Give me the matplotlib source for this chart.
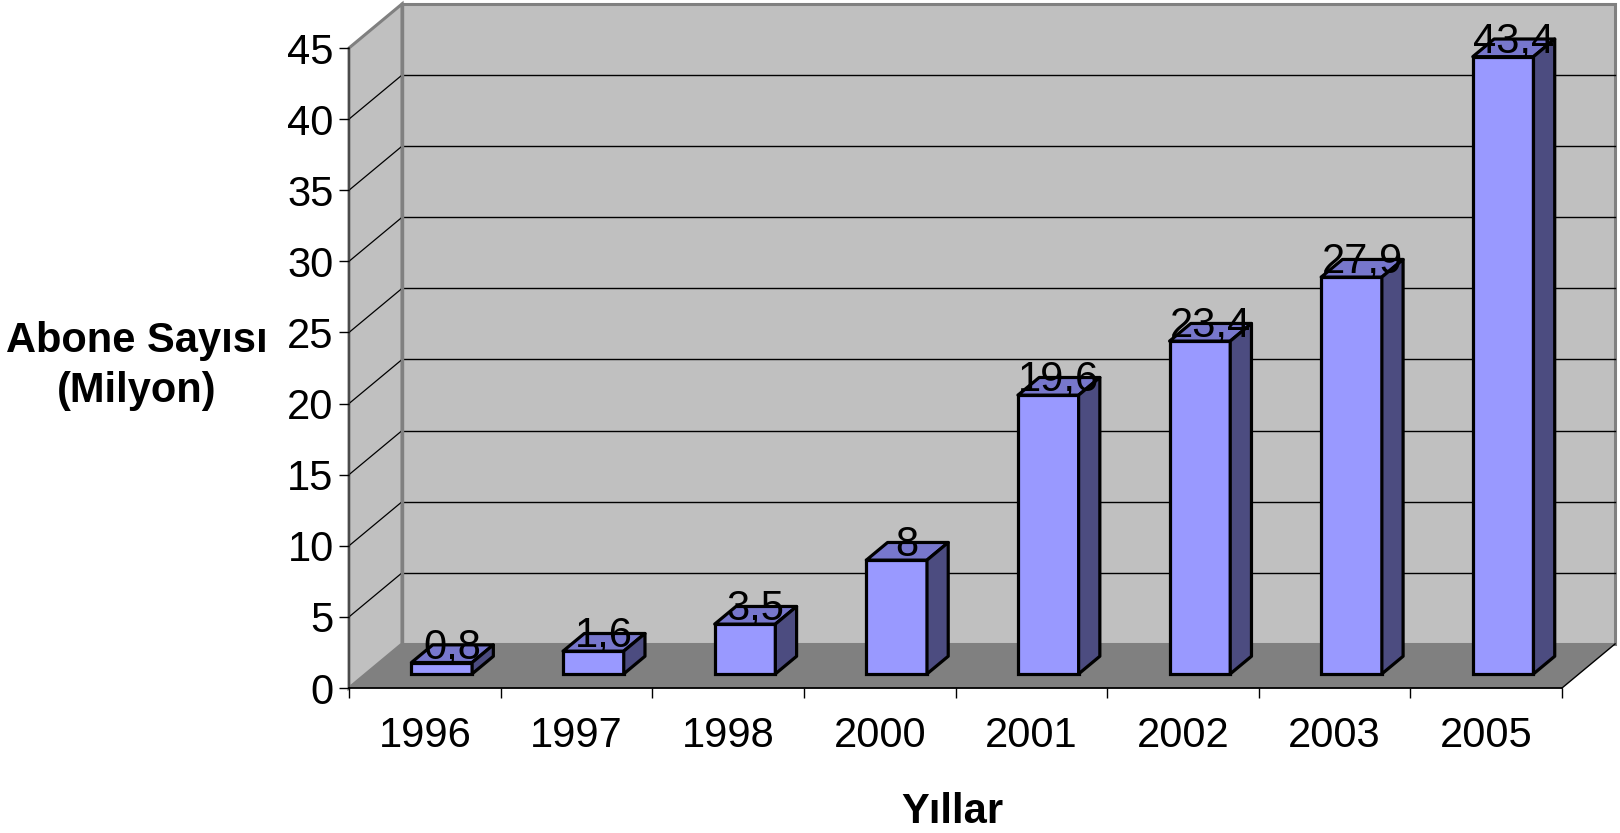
#!/usr/bin/env python3
"""Abone sayisi (milyon) by year, Excel-style 3D column chart."""

import matplotlib.pyplot as plt
from matplotlib.patches import Polygon

years = ["1996", "1997", "1998", "2000", "2001", "2002", "2003", "2005"]
subscribers = [0.8, 1.6, 3.5, 8, 19.6, 23.4, 27.9, 43.4]
y_ticks = [0, 5, 10, 15, 20, 25, 30, 35, 40, 45]

plt.rcParams["font.family"] = ["Liberation Sans", "DejaVu Sans"]

# depth of the floor in data units (x in categories, y in value units)
DX, DY = 0.35, 3.1
BAR_W = 0.4
BAR_FRONT = 0.32  # where the bar front sits inside the floor depth
BAR_DEPTH = 0.4

FRONT = "#9999FF"
TOP = "#7777CC"
SIDE = "#4C4C80"
WALL = "#C0C0C0"
FLOOR = "#808080"


def main() -> None:
    fig = plt.figure(figsize=(16.2, 8.33), dpi=100)
    ax = fig.add_axes([349 / 1620, 145 / 833, 1213 / 1620, 640 / 833])
    n = len(years)
    x0, x1 = -0.5, n - 0.5
    ymax = y_ticks[-1]
    ax.set_xlim(x0, x1)
    ax.set_ylim(0, ymax)

    # walls and floor
    back = Polygon([(x0 + DX, DY), (x1 + DX, DY), (x1 + DX, ymax + DY),
                    (x0 + DX, ymax + DY)], closed=True, facecolor=WALL,
                   edgecolor=FLOOR, lw=2.2, zorder=0.5, clip_on=False)
    side = Polygon([(x0, 0), (x0 + DX, DY), (x0 + DX, ymax + DY), (x0, ymax)],
                   closed=True, facecolor=WALL, edgecolor=FLOOR, lw=2.2,
                   zorder=0.6, clip_on=False)
    floor = Polygon([(x0, 0), (x1, 0), (x1 + DX, DY), (x0 + DX, DY)],
                    closed=True, facecolor=FLOOR, edgecolor="none",
                    zorder=0.7, clip_on=False)
    for p in (back, side, floor):
        ax.add_patch(p)
    ax.plot([x1, x1 + DX], [0, DY], color="black", lw=1, zorder=0.8,
            clip_on=False)

    for v in y_ticks[1:-1]:
        ax.plot([x0 + DX, x1 + DX], [v + DY, v + DY], color="black", lw=1,
                zorder=0.8, clip_on=False)
        ax.plot([x0, x0 + DX], [v, v + DY], color="black", lw=0.9,
                zorder=0.8, clip_on=False)
    # redraw the thick gray back-wall edge above gridlines
    ax.plot([x0 + DX, x0 + DX], [DY, ymax + DY], color=FLOOR, lw=2.4,
            zorder=0.85, clip_on=False)

    # bars
    fx, fy = BAR_FRONT * DX, BAR_FRONT * DY
    bx, by = BAR_DEPTH * DX, BAR_DEPTH * DY
    xs = [i + fx for i in range(n)]
    ax.bar(xs, subscribers, width=BAR_W, bottom=fy, color=FRONT,
           edgecolor="black", lw=2.3, zorder=3, clip_on=False)
    for x, v in zip(xs, subscribers):
        left, right = x - BAR_W / 2, x + BAR_W / 2
        top = v + fy
        ax.add_patch(Polygon([(left, top), (right, top), (right + bx, top + by),
                              (left + bx, top + by)], closed=True,
                             facecolor=TOP, edgecolor="black", lw=2.3,
                             zorder=3.1, clip_on=False, joinstyle="round"))
        ax.add_patch(Polygon([(right, fy), (right + bx, fy + by),
                              (right + bx, top + by), (right, top)],
                             closed=True, facecolor=SIDE, edgecolor="black",
                             lw=2.3, zorder=3.1, clip_on=False,
                             joinstyle="round"))
        label = f"{v:g}".replace(".", ",")
        ax.text(x + bx / 2, top + 0.3, label, ha="center", va="baseline",
                fontsize=30, zorder=5)

    # axes
    for s in ("top", "right"):
        ax.spines[s].set_visible(False)
    ax.spines["left"].set_color("#404040")
    ax.spines["left"].set_linewidth(1.2)
    ax.spines["bottom"].set_color("black")
    ax.spines["bottom"].set_linewidth(1.3)
    ax.spines["left"].set_zorder(0.9)
    ax.spines["bottom"].set_zorder(0.9)

    ax.set_yticks(y_ticks)
    ax.set_yticklabels([str(t) for t in y_ticks])
    ax.tick_params(axis="y", length=7, width=1, pad=4, labelsize=30,
                   color="black")
    ax.set_xticks(range(n))
    ax.set_xticklabels(years)
    ax.tick_params(axis="x", length=0, pad=20, labelsize=30)
    ax.set_xticks([i - 0.5 for i in range(n + 1)], minor=True)
    ax.tick_params(axis="x", which="minor", length=7, width=1, color="black")
    ax.set_facecolor("none")

    fig.text(952 / 1620, 1 - 812 / 833, "Yıllar", ha="center", va="center",
             fontsize=30, fontweight="bold")
    fig.text(137 / 1620, 1 - 366 / 833, "Abone Sayısı\n(Milyon)",
             ha="center", va="center", fontsize=30, fontweight="bold",
             multialignment="center", linespacing=1.3)

    fig.savefig("out.png", dpi=100, facecolor="white")
    plt.close(fig)


if __name__ == "__main__":
    main()
